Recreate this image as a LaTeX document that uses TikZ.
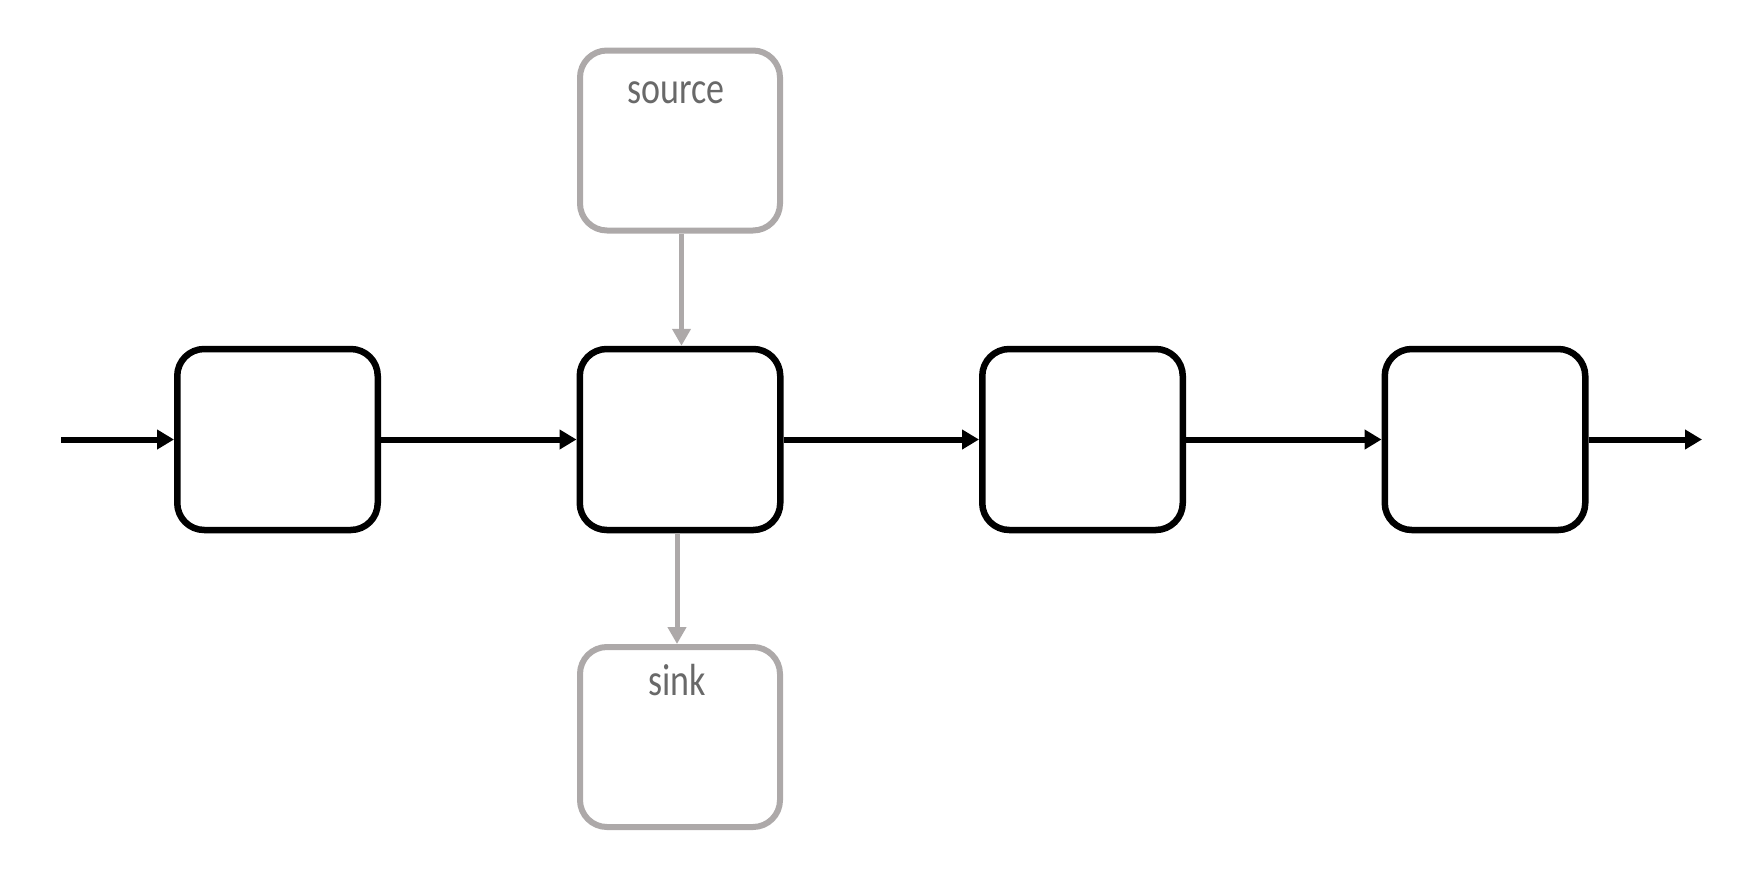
\documentclass[tikz,border=0pt]{standalone}
\usepackage{fontspec}
\usetikzlibrary{arrows.meta}
\newfontfamily\lblfont[FakeStretch=0.8]{Carlito}
\definecolor{boxgray}{RGB}{173,169,169}
\definecolor{txtgray}{RGB}{105,105,105}
\begin{document}
\begin{tikzpicture}[x=1pt,y=-1pt,
  blk/.style={draw=black,line width=6.5pt,rounded corners=27pt,minimum width=200.5pt,minimum height=181pt,inner sep=0pt},
  gbox/.style={draw=boxgray,line width=6pt,rounded corners=27pt,minimum width=200pt,minimum height=180pt,inner sep=0pt},
  flow/.style={draw=black,line width=6pt,-{Triangle[length=17pt,width=19pt]}},
  gflow/.style={draw=boxgray,line width=5pt,-{Triangle[length=17pt,width=18pt]}},
  lbl/.style={text=txtgray,font=\lblfont\fontsize{45}{54}\selectfont,inner sep=0pt,anchor=base}]
\useasboundingbox (0,0) rectangle (1744,878);
\node[blk] (b1) at (277.5,439.5) {};
\node[blk] (b2) at (680,439.5) {};
\node[blk] (b3) at (1082.5,439.5) {};
\node[blk] (b4) at (1485,439.5) {};
\node[gbox] (src) at (680,140.5) {};
\node[gbox] (snk) at (680,737) {};
\node[lbl] (srct) at (676,103) {source};
\node[lbl] (snkt) at (677,695) {sink};
\coordinate (in) at (61,439.5);
\coordinate (out) at (1702,439.5);
\draw[flow] (in) -- (b1.west);
\draw[flow] (b1.east) -- (b2.west);
\draw[flow] (b2.east) -- (b3.west);
\draw[flow] (b3.east) -- (b4.west);
\draw[flow] (b4.east) -- (out);
\draw[gflow] ([xshift=1.5pt]src.south) -- ([xshift=1.5pt]b2.north);
\draw[gflow] ([xshift=-3pt]b2.south) -- ([xshift=-3pt]snk.north);
\end{tikzpicture}
\end{document}
